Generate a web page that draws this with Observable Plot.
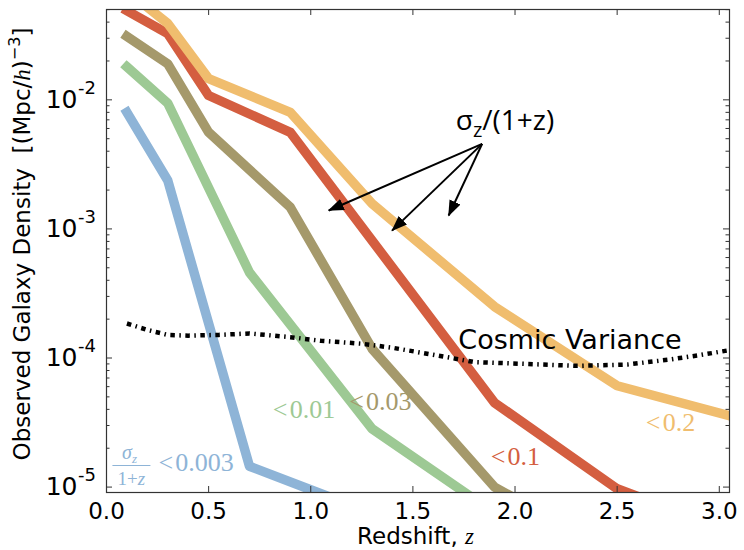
<!DOCTYPE html>
<html><head><meta charset="utf-8">
<script src="https://cdn.jsdelivr.net/npm/d3@7"></script>
<script src="https://cdn.jsdelivr.net/npm/@observablehq/plot@0.6"></script>
<style>body{margin:0;background:#fff}</style>
</head><body><div id="chart"></div>
<script>
// ---- data ----
const zBlue   = [0.1, 0.3, 0.7, 1.1];
const vBlue   = [8.0e-3, 2.37e-3, 1.45e-5, 8.3e-6];
const zGreen  = [0.1, 0.3, 0.7, 1.3, 1.9];
const vGreen  = [0.018, 9.4e-3, 4.6e-4, 2.83e-5, 6.3e-6];
const zOlive  = [0.1, 0.3, 0.5, 0.9, 1.3, 1.9, 2.5];
const vOlive  = [0.031, 0.019, 5.6e-3, 1.47e-3, 1.18e-4, 1.0e-5, 3.0e-6];
const zRed    = [0.1, 0.3, 0.5, 0.9, 1.9, 2.5, 3.1];
const vRed    = [0.049, 0.0326, 0.0108, 5.6e-3, 4.5e-5, 9.7e-6, 4.3e-6];
const zOrange = [0.1, 0.3, 0.5, 0.9, 1.3, 1.9, 2.5, 3.1];
const vOrange = [0.07, 0.039, 0.0146, 8.0e-3, 1.57e-3, 2.5e-4, 6.1e-5, 3.4e-5];
const zCV = [0.1, 0.2, 0.3, 0.4, 0.55, 0.7, 0.9, 1.05, 1.25, 1.4, 1.6, 1.8, 2.05, 2.3, 2.55, 2.75, 2.9, 3.05];
const vCV = [1.85e-4, 1.65e-4, 1.51e-4, 1.49e-4, 1.51e-4, 1.55e-4, 1.45e-4, 1.36e-4, 1.29e-4, 1.2e-4, 1.06e-4, 9.3e-5, 9.0e-5, 8.7e-5, 8.9e-5, 9.7e-5, 1.05e-4, 1.15e-4];

const seriesColors = ["#8eb4d7", "#9dc994", "#a5996b", "#d45e40", "#f0bd6e"];
const labelText = ["<0.003", "<0.01", "<0.03", "<0.1", "<0.2"];
const labelZ = [0.2545, 0.967, 1.341, 2.002, 2.761];
const labelV = [1.54e-5, 3.98e-5, 4.58e-5, 1.72e-5, 3.15e-5];

const xTicks = [0.0, 0.5, 1.0, 1.5, 2.0, 2.5, 3.0];
const yMajor = [1e-2, 1e-3, 1e-4, 1e-5];
const yExpLabels = ["-2", "-3", "-4", "-5"];
const xDomain = [0, 3.05];
const yDomain = [9.08e-6, 0.0501];

// annotation arrows (data units)
const arrowFrom = {z: 1.839, v: 4.56e-3};
const arrowTipsZ = [1.088, 1.398, 1.675];
const arrowTipsV = [1.39e-3, 9.7e-4, 1.27e-3];

// ---- layout ----
const W = 744, H = 550, mL = 106, mR = 15, mT = 9, mB = 58;
const innerW = W - mL - mR, innerH = H - mT - mB;
const SANS = "DejaVu Sans", SERIF = "Liberation Serif";
const ARROW = "#010101";

const ser = (z, v) => z.map((d, i) => ({z: d, v: v[i]}));
const labels = labelText.map((t, i) => ({t: t.replace("<", "<\u200a"), z: labelZ[i], v: labelV[i], c: seriesColors[i]}));
const yMinor = [];
for (let e = -6; e <= -2; e++) for (let k = 2; k <= 9; k++) {
  const val = k * Math.pow(10, e);
  if (val > yDomain[0] && val < yDomain[1]) yMinor.push(val);
}
const arrows = arrowTipsZ.map((z, i) => ({x1: arrowFrom.z, y1: arrowFrom.v, x2: z, y2: arrowTipsV[i]}));

const lineOpts = (c) => ({x: "z", y: "v", stroke: c, strokeWidth: 9.5, clip: true, strokeLinejoin: "round", strokeLinecap: "square"});
const tickCol = "#333";

const plot = Plot.plot({
  width: W, height: H,
  marginLeft: mL, marginRight: mR, marginTop: mT, marginBottom: mB,
  style: {fontFamily: SANS, background: "#fff", overflow: "visible"},
  x: {type: "linear", domain: xDomain, axis: null},
  y: {type: "log", domain: yDomain, axis: null},
  marks: [
    Plot.line(ser(zBlue, vBlue), lineOpts(seriesColors[0])),
    Plot.line(ser(zGreen, vGreen), lineOpts(seriesColors[1])),
    Plot.line(ser(zOlive, vOlive), lineOpts(seriesColors[2])),
    Plot.line(ser(zRed, vRed), lineOpts(seriesColors[3])),
    Plot.line(ser(zOrange, vOrange), lineOpts(seriesColors[4])),
    Plot.line(ser(zCV, vCV), {x: "z", y: "v", stroke: "#000", strokeWidth: 4.5, strokeDasharray: "4.5,4.5,1.5,4.5", strokeLinecap: "butt", clip: true}),
    // series labels
    Plot.text(labels.slice(1), {x: "z", y: "v", text: "t", fill: "c", textAnchor: "middle", fontFamily: SERIF, fontSize: 26, lineAnchor: "middle"}),
    Plot.text(labels.slice(0, 1), {x: "z", y: "v", text: "t", fill: "c", textAnchor: "start", fontFamily: SERIF, fontSize: 26, lineAnchor: "middle"}),
    // fraction sigma_z/(1+z)
    Plot.text([{z: 0.113, v: 1.85e-5}], {x: "z", y: "v", text: () => "σz#num", fill: seriesColors[0], fontFamily: SERIF, fontSize: 20, lineAnchor: "middle"}),
    Plot.link([{x1: 0.029, x2: 0.215, y: 1.47e-5}], {x1: "x1", x2: "x2", y1: "y", y2: "y", stroke: seriesColors[0], strokeWidth: 1.2}),
    Plot.text([{z: 0.122, v: 1.16e-5}], {x: "z", y: "v", text: () => "1+z#den", fill: seriesColors[0], fontFamily: SERIF, fontSize: 19, lineAnchor: "middle"}),
    // Cosmic variance label
    Plot.text([{z: 2.269, v: 1.36e-4}], {x: "z", y: "v", text: () => "Cosmic Variance", fontFamily: SANS, fontSize: 27, fill: "#000", lineAnchor: "middle"}),
    // sigma annotation + arrows
    Plot.text([{z: 1.951, v: 6.9e-3}], {x: "z", y: "v", text: () => "σz/(1+z)#ann", fontFamily: "Open Sans", fontSize: 28, fill: "#000", lineAnchor: "middle"}),
    Plot.link(arrows, {x1: "x1", y1: "y1", x2: "x2", y2: "y2", stroke: ARROW, strokeWidth: 2}),
    // frame + ticks (inward)
    Plot.frame({stroke: tickCol, strokeWidth: 1.2}),
    Plot.tickX(xTicks, {x: d => d, stroke: tickCol, insetTop: innerH - 6}),
    Plot.tickX(xTicks, {x: d => d, stroke: tickCol, insetBottom: innerH - 6}),
    Plot.tickY(yMajor, {y: d => d, stroke: tickCol, insetRight: innerW - 6}),
    Plot.tickY(yMajor, {y: d => d, stroke: tickCol, insetLeft: innerW - 6}),
    Plot.tickY(yMinor, {y: d => d, stroke: tickCol, insetRight: innerW - 3.5}),
    Plot.tickY(yMinor, {y: d => d, stroke: tickCol, insetLeft: innerW - 3.5}),
    // tick labels
    Plot.text(xTicks, {x: d => d, frameAnchor: "bottom", dy: 19, text: d => d3.format(".1f")(d), fontSize: 23, fill: "#000", lineAnchor: "middle"}),
    Plot.text(yMajor, {y: d => d, frameAnchor: "left", dx: -29, text: () => "10", textAnchor: "end", fontSize: 25, fill: "#000", lineAnchor: "middle"}),
    Plot.text(yMajor, {y: d => d, frameAnchor: "left", dx: -28.5, dy: -12, text: (d, i) => yExpLabels[i], textAnchor: "start", fontSize: 18, fill: "#000", lineAnchor: "middle"}),
    // axis labels
    Plot.text([0], {frameAnchor: "bottom", dx: -2.5, dy: 44, text: () => "Redshift, z#xl", textAnchor: "middle", fontSize: 23, fill: "#000", lineAnchor: "middle"}),
    Plot.text([0], {frameAnchor: "left", dx: -84, dy: -7, rotate: -90, textAnchor: "middle", text: () => "Observed Galaxy Density  [(Mpc/h)−3]#yl", fontSize: 23, fill: "#000", lineAnchor: "middle"})
  ]
});
document.getElementById("chart").appendChild(plot);

// ---- rich text (sub/superscripts, math italics) ----
const NS = "http://www.w3.org/2000/svg";
const allText = Array.from(plot.querySelectorAll("text"));
function rich(tag, parts) {
  const t = allText.find(e => e.textContent.endsWith(tag));
  if (!t) return;
  while (t.firstChild) t.removeChild(t.firstChild);
  for (const p of parts) {
    const s = document.createElementNS(NS, "tspan");
    s.textContent = p.t;
    for (const k in p) if (k !== "t") s.setAttribute(k, p[k]);
    t.appendChild(s);
  }
}
rich("#ann", [{t: "σ"}, {t: "z", dy: 7, "font-size": 20}, {t: "/(1+z)", dy: -7}]);
rich("#num", [{t: "σ", "font-style": "italic"}, {t: "z", dy: 4, "font-size": 13, "font-style": "italic"}]);
rich("#den", [{t: "1+"}, {t: "z", "font-style": "italic"}]);
rich("#xl", [{t: "Redshift, "}, {t: "z", "font-family": SERIF, "font-style": "italic"}]);
rich("#yl", [{t: "Observed Galaxy Density\u00a0\u00a0[(Mpc/"}, {t: "h", "font-family": SERIF, "font-style": "italic"}, {t: ")"}, {t: "−3", dy: -10, "font-size": 16}, {t: "]", dy: 10}]);

// filled arrow heads
const defs = document.createElementNS(NS, "defs");
const marker = document.createElementNS(NS, "marker");
const attrs = {id: "ahead", viewBox: "0 0 16 12", refX: 15, refY: 6, markerWidth: 16, markerHeight: 12, markerUnits: "userSpaceOnUse", orient: "auto"};
for (const k in attrs) marker.setAttribute(k, attrs[k]);
const mp = document.createElementNS(NS, "path");
mp.setAttribute("d", "M0,0 L16,6 L0,12 z");
mp.setAttribute("fill", "#000");
marker.appendChild(mp);
defs.appendChild(marker);
plot.insertBefore(defs, plot.firstChild);
plot.querySelectorAll(`g[stroke="${ARROW}"] path, g[stroke="${ARROW}"] line`).forEach(p => p.setAttribute("marker-end", "url(#ahead)"));
</script>
</body></html>
